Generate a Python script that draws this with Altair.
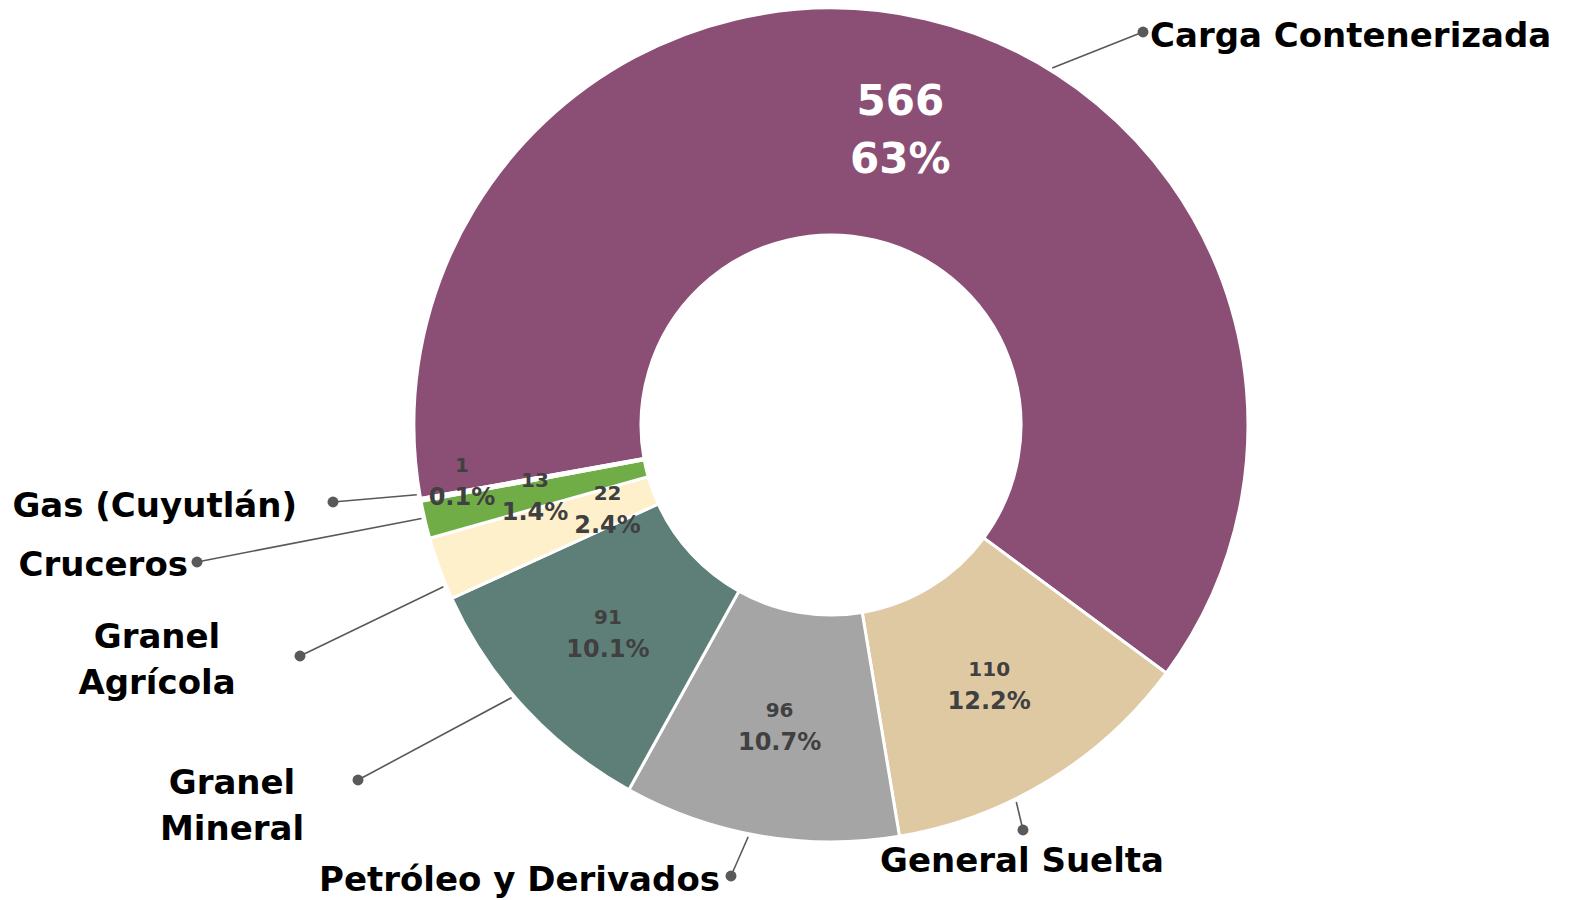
import math
import altair as alt
import pandas as pd

# ---------------- data ----------------
categories = ["Carga Contenerizada", "General Suelta", "Petróleo y Derivados",
              "Granel Mineral", "Granel Agrícola", "Cruceros", "Gas (Cuyutlán)"]
values = [566, 110, 96, 91, 22, 13, 1]
pct_labels = ["63%", "12.2%", "10.7%", "10.1%", "2.4%", "1.4%", "0.1%"]
outer_labels = ["Carga Contenerizada", "General Suelta", "Petróleo y Derivados",
                "Granel\nMineral", "Granel\nAgrícola", "Cruceros", "Gas (Cuyutlán)"]

# ---------------- style / layout ----------------
colors = ["#8B4F76", "#DFC9A2", "#A5A5A5", "#5E7F78", "#FFF0CC", "#70AD47", "#C55A11"]
FONT = "DejaVu Sans"
W, H = 1555, 892
CX, CY = 823, 417
R_OUT, R_IN = 417, 190
START_DEG = 259.85
START = math.radians(START_DEG)
R_LEAD = 420

inner_radius = {"Carga Contenerizada": 304, "General Suelta": 303, "Petróleo y Derivados": 303,
                "Granel Mineral": 304, "Granel Agrícola": 238, "Cruceros": 304, "Gas (Cuyutlán)": 373}
inner_angle_offset = {"Carga Contenerizada": 0.0, "General Suelta": 0.0, "Petróleo y Derivados": 0.0,
                      "Granel Mineral": 0.0, "Granel Agrícola": 0.0, "Cruceros": 0.0,
                      "Gas (Cuyutlán)": 2.0}
leader_offset = {"Carga Contenerizada": 18.6, "General Suelta": 5.3, "Petróleo y Derivados": 1.6,
                 "Granel Mineral": 2.3, "Granel Agrícola": -2.5, "Cruceros": 0.3, "Gas (Cuyutlán)": 0.8}
dots = {"Carga Contenerizada": (1135, 24), "General Suelta": (1015, 822),
        "Petróleo y Derivados": (723, 868), "Granel Mineral": (350, 772),
        "Granel Agrícola": (292, 648), "Cruceros": (189, 554), "Gas (Cuyutlán)": (325, 494)}
label_pos = {"Carga Contenerizada": (1142, 29, "left"), "General Suelta": (1014, 854, "center"),
             "Petróleo y Derivados": (712, 873, "right"), "Granel Mineral": (224, 776, "center"),
             "Granel Agrícola": (149, 630, "center"), "Cruceros": (180, 558, "right"),
             "Gas (Cuyutlán)": (289, 499, "right")}

total = sum(values)
df = pd.DataFrame({
    "cat": categories,
    "value": values,
    "order": list(range(len(categories))),
    "num": [str(v) for v in values],
    "pct": pct_labels,
    "lr": [inner_radius[c] for c in categories],
    "loff": [inner_angle_offset[c] / 360 * total for c in categories],
})

theta_scale = alt.Scale(domain=[0, total], range=[START, START + 2 * math.pi], zero=True, nice=False)

stacked = alt.Chart(df).transform_stack(
    stack="value", as_=["v0", "v1"], groupby=[], sort=[alt.SortField("order", order="ascending")]
).transform_calculate(mid="(datum.v0 + datum.v1) / 2 + datum.loff")

arcs = stacked.mark_arc(radius=R_OUT, radius2=R_IN, stroke="white", strokeWidth=3).encode(
    theta=alt.Theta("v0:Q", scale=theta_scale),
    theta2="v1:Q",
    color=alt.Color("cat:N", scale=alt.Scale(domain=categories, range=colors), legend=None),
    x=alt.value(CX), y=alt.value(CY),
)


def inner_text(filter_expr, field, size, dy, color):
    return stacked.transform_filter(filter_expr).mark_text(
        font=FONT, fontWeight="bold", fontSize=size, dy=dy, color=color, baseline="middle", align="center"
    ).encode(
        theta=alt.Theta("mid:Q", scale=theta_scale),
        radius=alt.Radius("lr:Q", scale=None),
        text=f"{field}:N",
        x=alt.value(CX), y=alt.value(CY),
    )


big_num = inner_text("datum.order == 0", "num", 42, -27, "white")
big_pct = inner_text("datum.order == 0", "pct", 42, 31, "white")
small_num = inner_text("datum.order > 0", "num", 20, -13, "#404040")
small_pct = inner_text("datum.order > 0", "pct", 24, 19, "#404040")

# leader lines, dots and outer labels (pixel-space scales)
cum = 0
lead_rows, dot_rows, lab_rows = [], [], []
for i, c in enumerate(categories):
    mid = START_DEG + (cum + values[i] / 2) / total * 360
    cum += values[i]
    a = math.radians(mid + leader_offset[c])
    sx, sy = CX + R_LEAD * math.sin(a), CY - R_LEAD * math.cos(a)
    dx, dy = dots[c]
    lead_rows += [dict(cat=c, k=0, x=sx, y=sy), dict(cat=c, k=1, x=dx, y=dy)]
    dot_rows.append(dict(cat=c, x=dx, y=dy))
    lx, ly, al = label_pos[c]
    lab_rows.append(dict(cat=c, x=lx, y=ly, align=al, label=outer_labels[i]))

xs = alt.Scale(domain=[0, W], range=[0, W], nice=False, zero=False)
ys = alt.Scale(domain=[0, H], range=[0, H], nice=False, zero=False)

leaders = alt.Chart(pd.DataFrame(lead_rows)).mark_line(color="#595959", strokeWidth=1.6).encode(
    x=alt.X("x:Q", scale=xs, axis=None), y=alt.Y("y:Q", scale=ys, axis=None),
    detail="cat:N", order="k:Q",
)
dot_layer = alt.Chart(pd.DataFrame(dot_rows)).mark_circle(size=120, color="#595959", opacity=1).encode(
    x=alt.X("x:Q", scale=xs, axis=None), y=alt.Y("y:Q", scale=ys, axis=None),
)
labs = pd.DataFrame(lab_rows)
label_layers = []
for al in ["left", "center", "right"]:
    label_layers.append(
        alt.Chart(labs[labs["align"] == al]).mark_text(
            font=FONT, fontWeight="bold", fontSize=34, color="#000000", align=al,
            baseline="middle", lineBreak="\n", lineHeight=46,
        ).encode(
            x=alt.X("x:Q", scale=xs, axis=None), y=alt.Y("y:Q", scale=ys, axis=None),
            text="label:N",
        )
    )

chart = alt.layer(
    arcs, leaders, dot_layer, big_num, big_pct, small_num, small_pct, *label_layers
).properties(
    width=W, height=H, padding=0, background="white",
    autosize=alt.AutoSizeParams(type="none"),
).configure_view(stroke=None)

chart.save("out.html", embed_options={"renderer": "svg", "actions": False})
